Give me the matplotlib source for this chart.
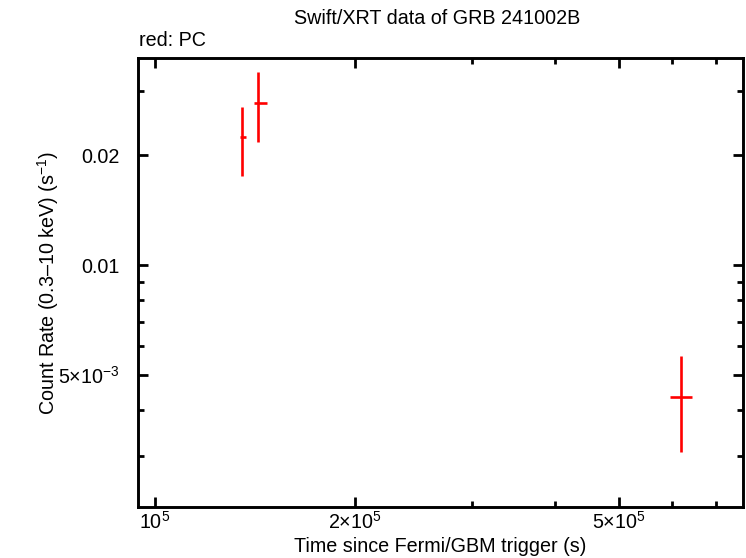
import matplotlib
matplotlib.use("Agg")
import matplotlib.pyplot as plt
from matplotlib.ticker import FixedLocator, NullFormatter
import numpy as np

plt.rcParams['font.family'] = ['Liberation Sans', 'DejaVu Sans']
plt.rcParams['mathtext.fontset'] = 'custom'
plt.rcParams['mathtext.rm'] = 'Liberation Sans'
plt.rcParams['mathtext.it'] = 'Liberation Sans:italic'
plt.rcParams['mathtext.bf'] = 'Liberation Sans:bold'

# Data (PC mode)
t = [1.354e5, 1.431e5, 6.20e5]
t_lo = [1.343e5, 1.410e5, 5.965e5]
t_hi = [1.371e5, 1.473e5, 6.437e5]
rate = [0.02236, 0.0277, 4.345e-3]
rate_hi = [0.02711, 0.03374, 5.65e-3]
rate_lo = [0.01756, 0.02174, 3.083e-3]

xmajor = [1e5, 2e5, 5e5]
xmajor_labels = [r"10$^{5}$", r"2×10$^{5}$", r"5×10$^{5}$"]
xminor = [3e5, 4e5, 6e5, 7e5]
ymajor = [5e-3, 0.01, 0.02]
ymajor_labels = [r"5×10$^{-3}$", "0.01", "0.02"]
yminor = [3e-3, 4e-3, 6e-3, 7e-3, 8e-3, 9e-3, 0.03]

FS = 14.2

fig = plt.figure(figsize=(7.46, 5.58), dpi=100)
ax = fig.add_axes([138/746, 1-507/558, (743-138)/746, (507-58)/558])
ax.set_xscale('log')
ax.set_yscale('log')

xerr = [np.array(t) - np.array(t_lo), np.array(t_hi) - np.array(t)]
yerr = [np.array(rate) - np.array(rate_lo), np.array(rate_hi) - np.array(rate)]
ax.errorbar(t, rate, xerr=xerr, yerr=yerr, fmt='none', ecolor='#ff0000',
            elinewidth=1.9, capsize=0)

ax.set_xlim(0.943e5, 7.68e5)
ax.set_ylim(2.177e-3, 0.03686)

ax.xaxis.set_major_locator(FixedLocator(xmajor))
ax.set_xticklabels(xmajor_labels)
ax.xaxis.set_minor_locator(FixedLocator(xminor))
ax.xaxis.set_minor_formatter(NullFormatter())
ax.yaxis.set_major_locator(FixedLocator(ymajor))
ax.set_yticklabels(ymajor_labels)
ax.yaxis.set_minor_locator(FixedLocator(yminor))
ax.yaxis.set_minor_formatter(NullFormatter())

for s in ax.spines.values():
    s.set_linewidth(2.1)
ax.tick_params(which='both', direction='in', top=True, right=True, width=2.0,
               labelsize=FS, colors='black')
ax.tick_params(which='major', length=7)
ax.tick_params(which='minor', length=4.5)
ax.tick_params(axis='y', which='major', pad=13)
ax.tick_params(axis='x', which='major', pad=3)

ax.set_xlabel("Time since Fermi/GBM trigger (s)", fontsize=FS)
ax.set_ylabel(r"Count Rate (0.3–10 keV) (s$^{-1}$)", fontsize=FS)
ax.yaxis.set_label_coords((61 - 138) / 605, 0.5)
ax.xaxis.set_label_coords(0.5, (507 - 537) / 449)

fig.text(437/746, 1-18/558, "Swift/XRT data of GRB 241002B", ha='center', va='center', fontsize=FS)
fig.text(139/746, 1-41/558, "red: PC", ha='left', va='center', fontsize=FS)

fig.savefig("out.png", dpi=100)
